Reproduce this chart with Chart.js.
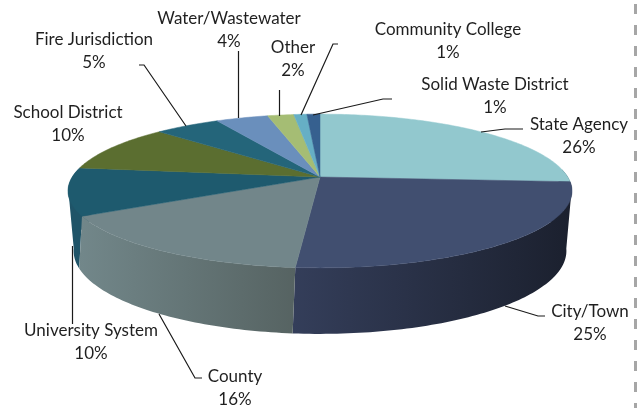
<!DOCTYPE html>
<html>
<head>
<meta charset="utf-8">
<title>Pie</title>
<style>
  html, body { margin: 0; padding: 0; background: #fff; }
  canvas { display: block; }
</style>
</head>
<body>
<canvas id="pie" width="637" height="408"></canvas>
<script src="https://cdn.jsdelivr.net/npm/chart.js@4"></script>
<script>
const categories = ['State Agency', 'City/Town', 'County', 'University System', 'School District',
    'Fire Jurisdiction', 'Water/Wastewater', 'Other', 'Community College', 'Solid Waste District'];
// the labels show them rounded
const shares = [26, 25.3, 15.7, 10, 10, 5, 4, 2, 1, 1];

const topColors = ['#92c8ce', '#414f70', '#72868a', '#1e5a6e', '#5b6e30',
    '#24657a', '#6a8fbc', '#a5bd74', '#66afc5', '#36608f'];
// left and right colour of the visible side wall
const wallColors = [['#1c2130', '#1c2130'], ['#343e5a', '#1b202e'], ['#72878a', '#566362'], ['#1f5468', '#1f5468']];

// where each label is centred (first line), and its leader line
const labelSpots = [[579, 125], [590, 312], [235, 377], [91, 331], [68, 113],
    [94, 40], [229, 19], [293, 48], [448, 30], [495, 85]];
const leaders = [
    [[523, 129], [505, 129], [481, 132]],
    [[545, 316], [538, 316], [505, 306]],
    [[202, 378], [195, 378], [159, 314]],
    [[72.5, 324], [72.5, 246]],
    null,
    [[139, 65], [144, 65], [186, 126]],
    [[238.5, 51], [238.5, 118]],
    [[279.5, 90], [279.5, 116]],
    [[338, 44], [333, 44], [301, 115]],
    [[392, 99], [383, 99], [313, 115]]
];

const TOP = { rx: 1.4, ry: 0.42, dy: 0, persp: 0.182 };
const BOTTOM = { rx: 1.328, ry: 0.4266, dy: 0.277, persp: 0.3 };

// angle is the arc element's canvas angle, 12 o'clock = -PI/2
function project(arc, ring, angle) {
    const t = angle + Math.PI / 2;
    const w = 1 + ring.persp * Math.cos(t);
    return {
        x: arc.x + arc.outerRadius * ring.rx * Math.sin(t) / w,
        y: arc.y + arc.outerRadius * (ring.dy - ring.ry * Math.cos(t) / w)
    };
}

function ringPoints(arc, ring, from, to) {
    const pts = [];
    const n = Math.max(2, Math.ceil((to - from) * 60));
    for (let i = 0; i <= n; i++) {
        pts.push(project(arc, ring, from + (to - from) * i / n));
    }
    return pts;
}

function signedArea(pts) {
    let sum = 0;
    pts.forEach((p, k) => {
        const q = pts[(k + 1) % pts.length];
        sum += p.x * q.y - q.x * p.y;
    });
    return sum;
}

function drawWall(ctx, arc, i) {
    // only the front half of the cake can be seen
    const from = Math.max(arc.startAngle, -0.1);
    const to = Math.min(arc.endAngle, Math.PI + 0.1);
    if (to <= from || !wallColors[i]) return;
    const upper = ringPoints(arc, TOP, from, to);
    const lower = ringPoints(arc, BOTTOM, from, to);
    const xs = upper.concat(lower).map(p => p.x);
    const grad = ctx.createLinearGradient(Math.min(...xs), 0, Math.max(...xs), 0);
    grad.addColorStop(0, wallColors[i][0]);
    grad.addColorStop(1, wallColors[i][1]);
    ctx.fillStyle = grad;
    // thin strips in one path, same winding or the overlaps at the sides cancel out
    ctx.beginPath();
    for (let k = 0; k < upper.length - 1; k++) {
        const quad = [upper[k], upper[k + 1], lower[k + 1], lower[k]];
        if (signedArea(quad) < 0) quad.reverse();
        quad.forEach((p, m) => m ? ctx.lineTo(p.x, p.y) : ctx.moveTo(p.x, p.y));
        ctx.closePath();
    }
    ctx.fill();
}

function drawFace(ctx, arc, color) {
    ctx.beginPath();
    ctx.moveTo(arc.x, arc.y);
    ringPoints(arc, TOP, arc.startAngle, arc.endAngle).forEach(p => ctx.lineTo(p.x, p.y));
    ctx.closePath();
    ctx.fillStyle = color;
    ctx.strokeStyle = color;
    ctx.lineWidth = 0.5;
    ctx.fill();
    ctx.stroke();
}

const cakePlugin = {
    id: 'cake',
    beforeDatasetDraw(chart, args) {
        const ctx = chart.ctx;
        const arcs = chart.getDatasetMeta(args.index).data;
        ctx.save();
        // left wall first, so County and City/Town sit over it
        [3, 0, 1, 2].forEach(i => drawWall(ctx, arcs[i], i));
        arcs.forEach((arc, i) => drawFace(ctx, arc, topColors[i]));
        ctx.restore();
        return false;
    },
    afterDatasetsDraw(chart) {
        const ctx = chart.ctx;
        ctx.save();
        ctx.strokeStyle = '#1a1a1a';
        ctx.lineWidth = 1.2;
        leaders.forEach(line => {
            if (!line) return;
            ctx.beginPath();
            line.forEach((p, k) => k ? ctx.lineTo(p[0], p[1]) : ctx.moveTo(p[0], p[1]));
            ctx.stroke();
        });
        ctx.fillStyle = '#1f1f1f';
        ctx.font = '17px Lato';
        ctx.textAlign = 'center';
        ctx.textBaseline = 'middle';
        categories.forEach((name, i) => {
            const [x, y] = labelSpots[i];
            ctx.fillText(name, x, y);
            ctx.fillText(Math.round(shares[i]) + '%', x, y + 23);
        });
        // dashed page border on the right
        ctx.strokeStyle = '#a6a6a6';
        ctx.lineWidth = 3;
        ctx.setLineDash([10, 11]);
        ctx.beginPath();
        ctx.moveTo(635.5, 4);
        ctx.lineTo(635.5, 408);
        ctx.stroke();
        ctx.restore();
    }
};

new Chart(document.querySelector('#pie'), {
    type: 'pie',
    data: {
        labels: categories,
        datasets: [{ data: shares, backgroundColor: topColors, borderWidth: 0 }]
    },
    options: {
        responsive: false,
        animation: false,
        layout: { padding: { left: 3, bottom: 54 } },
        plugins: { legend: { display: false }, title: { display: false }, tooltip: { enabled: false } }
    },
    plugins: [cakePlugin]
});
</script>
</body>
</html>
